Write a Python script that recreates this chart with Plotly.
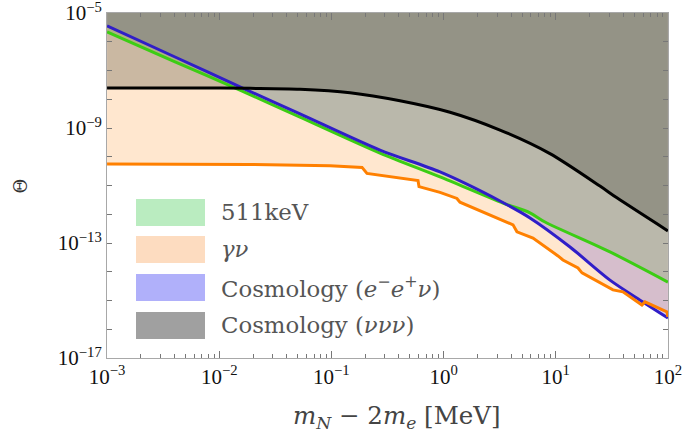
import numpy as np
import plotly.graph_objects as go

# ---------------- data (log10 values) ----------------
# 511 keV line constraint
lx_511 = [-3.0, -2.394, -1.815, -1.28, -0.567, -0.032, 0.529, 0.77, 0.904, 1.483, 2.0]
ly_511 = [-5.66, -6.70, -7.68, -8.62, -9.87, -10.70, -11.61, -11.95, -12.27, -13.31, -14.36]

# gamma nu constraint
lx_gnu = [-3.0, -2.349, -1.725, -1.012, -0.727, -0.683, -0.228, -0.219, -0.121, -0.032,
          0.119, 0.146, 0.619, 0.654, 0.797, 0.948, 1.020, 1.064, 1.198, 1.234,
          1.483, 1.510, 1.599, 1.768, 1.795, 1.991, 2.0]
ly_gnu = [-10.25, -10.25, -10.27, -10.31, -10.37, -10.58, -10.83, -11.04, -11.14, -11.24,
          -11.45, -11.58, -12.37, -12.61, -12.83, -13.24, -13.45, -13.59, -13.87, -14.04,
          -14.57, -14.63, -14.70, -15.16, -15.05, -15.40, -15.57]

# Cosmology (e- e+ nu)
lx_eev = [-3.0, -2.394, -1.815, -1.28, -0.567, -0.032, 0.503, 0.77, 1.127, 1.483, 1.777, 2.0]
ly_eev = [-5.45, -6.53, -7.57, -8.51, -9.77, -10.53, -11.54, -12.13, -13.14, -14.29, -15.05, -15.61]

# Cosmology (nu nu nu)
lx_vvv = [-3.0, -2.0, -1.725, -1.28, -0.834, -0.389, 0.057, 0.503, 0.948, 1.394, 1.545, 2.0]
ly_vvv = [-7.61, -7.61, -7.62, -7.65, -7.77, -8.05, -8.45, -9.07, -9.89, -11.02, -11.43, -12.58]

x_ticks = [-3, -2, -1, 0, 1, 2]
y_ticks = list(range(-17, -4))
y_labelled = [-17, -13, -9, -5]

legend_labels = ["511keV", "<i>γν</i>",
                 "Cosmology (<i>e</i><sup>−</sup><i>e</i><sup>+</sup><i>ν</i>)",
                 "Cosmology (<i>ννν</i>)"]

# ---------------- styles ----------------
Y_TOP = 1e-5
series = [
    (lx_511, ly_511, "rgba(50,205,0,0.2)", "rgb(60,205,20)", "spline"),
    (lx_gnu, ly_gnu, "rgba(255,128,0,0.19)", "rgb(255,128,0)", "linear"),
    (lx_eev, ly_eev, "rgba(48,30,195,0.2)", "rgb(48,30,200)", "spline"),
    (lx_vvv, ly_vvv, "rgba(8,14,0,0.215)", "rgb(0,0,0)", "spline"),
]
legend_swatch = ["rgb(186,236,192)", "rgb(253,220,192)", "rgb(176,176,250)", "rgb(160,160,160)"]

fig = go.Figure()
for lx, ly, fc, lc, shp in series:
    x = 10 ** np.array(lx)
    y = 10 ** np.array(ly)
    fig.add_trace(go.Scatter(x=x, y=np.full(len(x), Y_TOP), mode="lines",
                             line=dict(width=0), hoverinfo="skip"))
    fig.add_trace(go.Scatter(x=x, y=y, mode="lines", line=dict(width=0, shape=shp, smoothing=0.8),
                             fill="tonexty", fillcolor=fc, hoverinfo="skip"))
for idx in [0, 2, 1, 3]:
    lx, ly, fc, lc, shp = series[idx]
    fig.add_trace(go.Scatter(x=10 ** np.array(lx), y=10 ** np.array(ly), mode="lines",
                             line=dict(color=lc, width=3, shape=shp, smoothing=0.8),
                             hoverinfo="skip"))

tickfont = dict(family="Liberation Serif", size=21, color="#111111")
xminor = [k * 10.0 ** e for e in range(-3, 2) for k in range(2, 10)]
fig.update_xaxes(type="log", range=[-3.0005, 2.0005], showgrid=False, zeroline=False,
                 automargin=False, ticklabeloverflow="allow",
                 showline=True, linecolor="#a8a8a8", linewidth=1, mirror="ticks",
                 ticks="inside", ticklen=7, tickcolor="#777777", tickwidth=1,
                 tickvals=[10.0 ** v for v in x_ticks],
                 ticktext=[f"10<sup>{str(v).replace('-', '−')}</sup>" for v in x_ticks],
                 tickfont=tickfont,
                 minor=dict(tickvals=xminor, ticks="inside", ticklen=4, tickcolor="#777777", showgrid=False))
fig.update_yaxes(type="log", range=[-17.0005, -4.9995], showgrid=False, zeroline=False,
                 automargin=False, ticklabeloverflow="allow",
                 showline=True, linecolor="#a8a8a8", linewidth=1, mirror="ticks",
                 ticks="inside", ticklen=5, tickcolor="#777777", tickwidth=1,
                 tickvals=[10.0 ** v for v in y_ticks],
                 ticktext=[(f"10<sup>{str(v).replace('-', '−')}</sup>" if v in y_labelled else "") for v in y_ticks],
                 tickfont=tickfont)

# legend drawn as swatches + labels
row_top = [0.4609, 0.3536, 0.2435, 0.1333]
for i, lab in enumerate(legend_labels):
    fig.add_shape(type="rect", xref="paper", yref="paper", x0=0.0517, x1=0.1747,
                  y0=row_top[i] - 0.0783, y1=row_top[i], fillcolor=legend_swatch[i],
                  line=dict(width=0), layer="above")
    fig.add_annotation(xref="paper", yref="paper", x=0.2, y=row_top[i] - 0.039,
                       text=lab, showarrow=False, xanchor="left", yanchor="middle",
                       font=dict(family="DejaVu Serif", size=22.8, color="#555555"))

fig.add_annotation(xref="paper", yref="paper", x=0.517, y=-0.171, showarrow=False,
                   text="<i>m</i><sub><i>N</i></sub> − 2<i>m</i><sub><i>e</i></sub> [MeV]",
                   xanchor="center", yanchor="middle",
                   font=dict(family="DejaVu Serif", size=24.5, color="#444444"))
fig.add_annotation(xref="paper", yref="paper", x=-0.1533, y=0.5, showarrow=False,
                   text="Θ", textangle=-90, xanchor="center", yanchor="middle",
                   font=dict(family="DejaVu Serif", size=18, color="#333333"))

fig.update_layout(width=684, height=441, margin=dict(l=107, r=16, t=13, b=83),
                  plot_bgcolor="white", paper_bgcolor="white", showlegend=False)
# remove the default page margin so the figure sits at the window's top-left corner
fig.write_html("out.html", config={"displayModeBar": False},
               post_script="document.body.style.margin='0px';")
